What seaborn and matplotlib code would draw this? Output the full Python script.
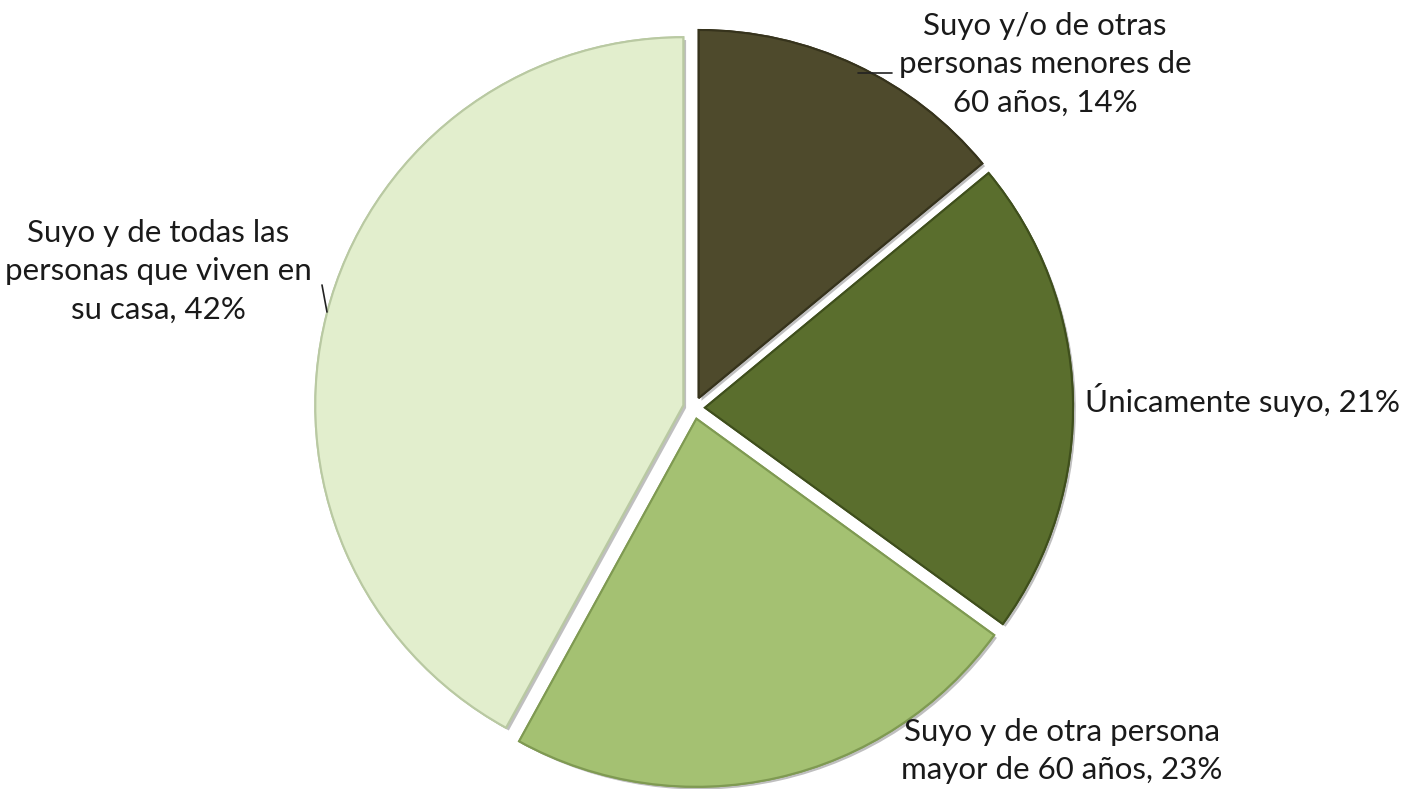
import matplotlib
matplotlib.use("Agg")
import matplotlib.pyplot as plt
import matplotlib.patheffects as pe
import seaborn as sns

categories = [
    "Suyo y/o de otras\npersonas menores de\n60 años",
    "Únicamente suyo",
    "Suyo y de otra persona\nmayor de 60 años",
    "Suyo y de todas las\npersonas que viven en\nsu casa",
]
values = [14, 21, 23, 42]
colors = ["#4e4a2c", "#5a6e2d", "#a4c172", "#e2eecd"]
edges = ["#36331c", "#3f4f1c", "#7f9a52", "#b9c9a2"]

sns.set_theme(style="white")
plt.rcParams['font.family'] = ['Lato', 'DejaVu Sans']

W, H = 1414, 789
fig = plt.figure(figsize=(W / 100, H / 100), dpi=100)
ax = fig.add_axes([0, 0, 1, 1])

cx, cy, R = 694, 408, 368
wedges, _ = ax.pie(values, colors=colors, startangle=90, counterclock=False,
                   explode=[0.03] * len(values), radius=1, center=(0, 0),
                   wedgeprops=dict(linewidth=1.5))
for w, ec in zip(wedges, edges):
    w.set_edgecolor(ec)
    w.set_path_effects([pe.withSimplePatchShadow(offset=(2, -2), shadow_rgbFace="#000000", alpha=0.25), pe.Normal()])

ax.set_aspect('auto')
ax.set_xlim(-cx / R, (W - cx) / R)
ax.set_ylim(-(H - cy) / R, cy / R)
ax.axis('off')

def fx(px):
    return px / W

def fy(py):
    return 1 - py / H

fs = 22.5
ls = 1.45
labels = [f"{c}, {v}%" for c, v in zip(categories, values)]
fig.text(fx(1045), fy(64), labels[0], ha='center', va='center', fontsize=fs, color='#1a1a1a', linespacing=ls)
fig.text(fx(1085), fy(400), labels[1], ha='left', va='center', fontsize=fs, color='#1a1a1a')
fig.text(fx(1062), fy(751), labels[2], ha='center', va='center', fontsize=fs, color='#1a1a1a', linespacing=ls)
fig.text(fx(158), fy(271), labels[3], ha='center', va='center', fontsize=fs, color='#1a1a1a', linespacing=ls)

# leader lines
fig.add_artist(plt.Line2D([fx(858), fx(892)], [fy(73), fy(73)], color='#222222', lw=1.2))
fig.add_artist(plt.Line2D([fx(322), fx(327)], [fy(285), fy(312)], color='#222222', lw=1.2))

fig.savefig("out.png", dpi=100, facecolor='white')
